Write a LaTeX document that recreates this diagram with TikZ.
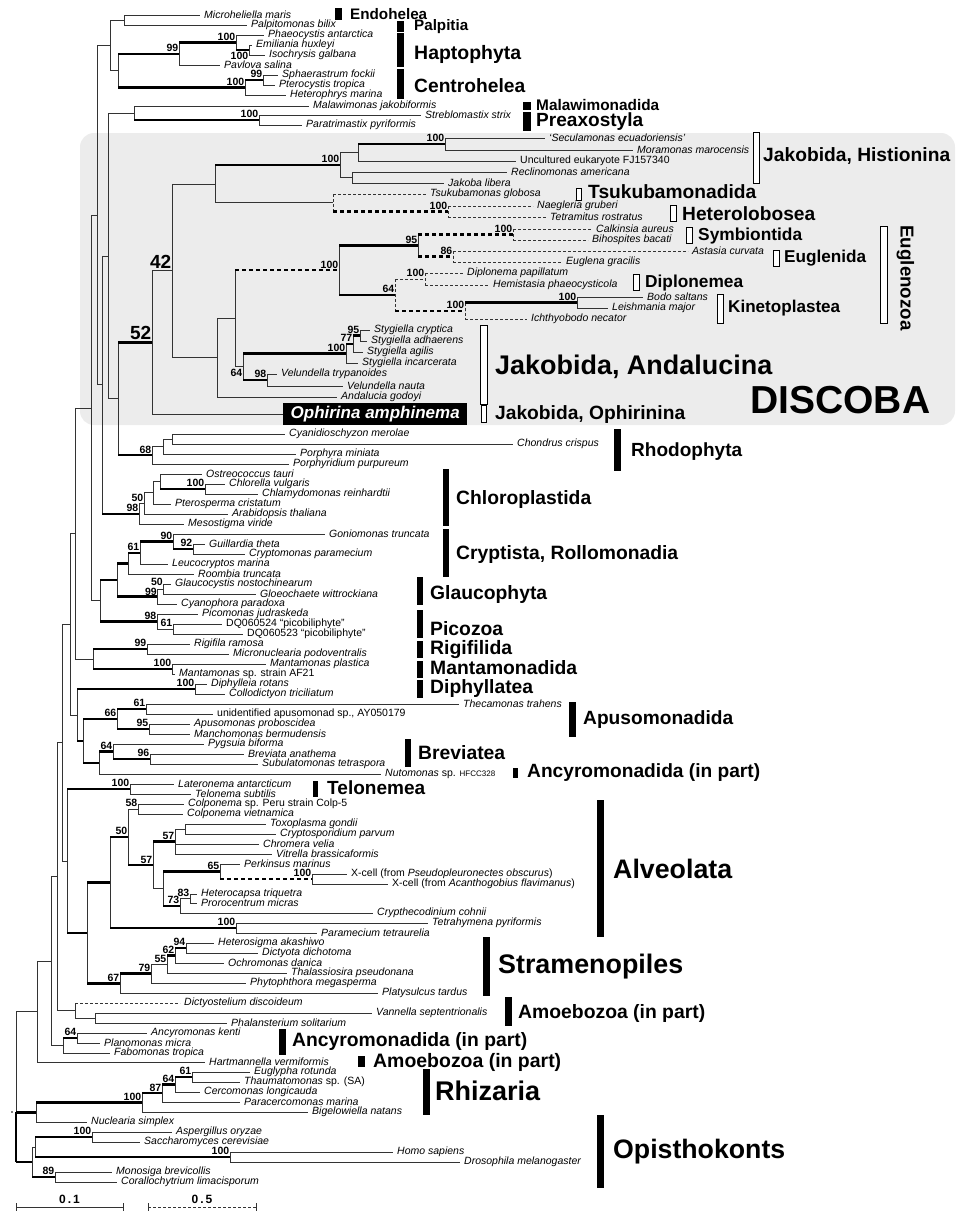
\documentclass[tikz,border=0pt]{standalone}
\usepackage{fontspec}
\setmainfont{Liberation Sans}
\usepackage{graphicx}
\usetikzlibrary{calc}
\definecolor{discobg}{RGB}{236,236,236}
\newcommand{\grplab}[2]{\resizebox{#1pt}{!}{\bfseries #2}}
\tikzset{
  tb/.style={draw=black!80, line width=0.8pt},
  kb/.style={draw=black, line width=2.4pt},
  dtb/.style={tb, dash pattern=on 3pt off 2pt},
  dkb/.style={kb, dash pattern=on 4pt off 3pt},
  taxon/.style={anchor=west, inner xsep=4pt, inner ysep=0pt, font=\fontsize{10.5}{12}\selectfont\itshape},
  bs/.style={anchor=south east, inner sep=0.6pt, yshift=1.2pt, font=\fontsize{10.5}{12}\selectfont\bfseries},
  bsbelow/.style={anchor=north east, inner sep=0.6pt, yshift=-1.6pt, font=\fontsize{10.5}{12}\selectfont\bfseries},
  bsbig/.style={anchor=south east, inner sep=0.6pt, yshift=1.5pt, font=\fontsize{19}{22}\selectfont\bfseries},
  ophi/.style={anchor=west, fill=black, text=white, inner xsep=4pt, minimum width=184pt, minimum height=19pt, font=\fontsize{17}{19}\selectfont\bfseries\itshape},
  solidbar/.style={fill=black},
  openbar/.style={draw=black, fill=white, line width=0.9pt},
  grp/.style={anchor=west, inner sep=0pt}
}
\begin{document}
\begin{tikzpicture}[x=1pt, y=-1pt]
\useasboundingbox (0,0) rectangle (957,1213);
% Discoba background
\fill[discobg, rounded corners=14pt] (80,133) rectangle (955,425);

% internal nodes
\foreach \n/\x/\y in {nMP/124/20, nEI/249/50, nHa1/236/42.5, nHa/179/53.75, nSP/263/80, nCe/245/87.5, nHC/118/70.6, nA/110/45.3, nPx/259/120, nM/134/113,
  nSM/445/144, nH1/358/152.5, nRJ/352/177.5, nHi/340/165, nNT/448/211.5, nTH/333/202.75, nJT/215/183.9,
  nCB/513/234.5, nAE/453/256.5, nEu/418/245.5, nDH/425/279, nBL/577/302.5, nKi/465/310.75, nDK/395/294.9, nEz/339/270.2,
  nS95/360/335.5, nS77/353/343.75, nSt/346/353.4, nVe/267/380, nAn/243/366.7, nEA/235/318.5, nEAA/217/357.7, n42/172/270.8, n52/152/342.4,
  nCy/172/439, nCP/163/446.5, nRh/152/455.25, n118/118/398.8, n108/108/255.9,
  nCC/205/489, nOC/160/481.5, nOP/153/492.75, nOA/144/503.4, nChl/139/513.7, n102/102/384.8, n97/97/215,
  nGC/193/549, nGo/173/541.5, nGL/140/552.75, nCr/128/563.4, nGG/163/589, nGl/157/596.5, nCG/117/580, nDQ/173/629, nPi/157/621.5, nCP2/100/600.75, n91/91/407.9,
  nRi/147/649, nMa/172/669, nRM/93/659, n75/75/533.5,
  nDi/195/689, nTU/146/709, nAM/149/729, nAp/117/719, nBS/150/759, nBr/113/751.5, nBN/99/762.75, n83/83/740.9, n78/77/714.9, n70/70/624.2,
  nTe/130/789, nCo/138/809, nTC/185/829, nCV/175/841.5, nPX/312/879, nPe/220/871.5, nHP/190/898.5, nDn/180/905.75, nPD/163/888.6, nAD/153/865.1, nCA/128/837, nCi/236/928, nAl/110/882.5,
  nHD/186/948, nHO/175/955.5, nHT/167/964.25, nHPh/151/973.6, nSt2/120/983.3, nSA/87/932.9, n67/67/861, n62/62/742.6,
  nVP/95/1018, nAm/75/1010.5, n58/57/876.5, nAK/77/1038, nAnc/63/1045.5, n52b/51/961, n37/37/1011.5,
  nRz61/192/1077, nRz64/175/1084.5, nRz87/162/1093.25, nRz/142/1102.6, nRN/36/1112.3, nFu/92/1137, nMe/230/1157, nFM/35/1147, nCh/55/1177, nOp/32/1162, root/16/1112}
  \coordinate (\n) at (\x,\y);

% leaves
\foreach \n/\x/\y/\txt in {l1/200/15/Microheliella maris, l2/247/25/Palpitomonas bilix, l3/264/35/Phaeocystis antarctica,
  l4/252/45/Emiliania huxleyi, l5/265/55/Isochrysis galbana, l6/220/65/Pavlova salina, l7/278/75/Sphaerastrum fockii,
  l8/275/85/Pterocystis tropica, l9/286/95/Heterophrys marina, l10/309/106/Malawimonas jakobiformis,
  l11/421/115/Streblomastix strix, l12/302/125/Paratrimastix pyriformis, l13/545/138/‘Seculamonas ecuadoriensis’,
  l14/633/150/Moramonas marocensis, l15/516/161/\textup{Uncultured eukaryote FJ157340}, l16/507/172/Reclinomonas americana,
  l17/444/183/Jakoba libera, l18/426/194/Tsukubamonas globosa, l19/533/206/Naegleria gruberi, l20/546/217/Tetramitus rostratus,
  l21/592/229/Calkinsia aureus, l22/588/240/Bihospites bacati, l23/688/251/Astasia curvata, l24/562/262/Euglena gracilis,
  l25/463/273/Diplonema papillatum, l26/489/285/Hemistasia phaeocysticola, l27/643/297/Bodo saltans, l28/608/308/Leishmania major,
  l29/527/319/Ichthyobodo necator, l30/370/330/Stygiella cryptica, l31/367/341/Stygiella adhaerens, l32/363/352/Stygiella agilis,
  l33/358/363/Stygiella incarcerata, l34/277/374/Velundella trypanoides, l35/343/386/Velundella nauta, l36/337/397/Andalucia godoyi,
  l38/285/434/Cyanidioschyzon merolae, l39/513/444/Chondrus crispus, l40/296/454/Porphyra miniata, l41/289/464/Porphyridium purpureum,
  l42/202/474/Ostreococcus tauri, l43/225/484/Chlorella vulgaris, l44/258/494/Chlamydomonas reinhardtii, l45/171/504/Pterosperma cristatum,
  l46/228/514/Arabidopsis thaliana, l47/184/524/Mesostigma viride, l48/325/534/Goniomonas truncata, l49/205/544/Guillardia theta,
  l50/245/554/Cryptomonas paramecium, l51/168/564/Leucocryptos marina, l52/194/574/Roombia truncata, l53/171/584/Glaucocystis nostochinearum,
  l54/256/594/Gloeochaete wittrockiana, l55/177/604/Cyanophora paradoxa, l56/198/614/Picomonas judraskeda,
  l57/222/624/\textup{DQ060524 “picobiliphyte”}, l58/243/634/\textup{DQ060523 “picobiliphyte”}, l59/190/644/Rigifila ramosa,
  l60/229/654/Micronuclearia podoventralis, l61/266/664/Mantamonas plastica, l62/175/674/Mantamonas \textup{sp. strain AF21},
  l63/207/684/Diphylleia rotans, l64/225/694/Collodictyon triciliatum, l65/459/704/Thecamonas trahens,
  l66/213/714/{\textup{unidentified apusomonad sp., AY050179}}, l67/190/724/Apusomonas proboscidea, l68/190/734/Manchomonas bermudensis,
  l69/204/744/Pygsuia biforma, l70/244/754/Breviata anathema, l71/258/764/Subulatomonas tetraspora,
  l72/381/774/Nutomonas \textup{sp. {\fontsize{8}{9}\selectfont HFCC328}}, l73/174/784/Lateronema antarcticum, l74/191/794/Telonema subtilis,
  l75/184/804/Colponema \textup{sp. Peru strain Colp-5}, l76/183/814/Colponema vietnamica, l77/266/824/Toxoplasma gondii,
  l78/276/834/Cryptosporidium parvum, l79/259/844/Chromera velia, l80/272/854/Vitrella brassicaformis, l81/240/864/Perkinsus marinus,
  l82/347/874/\textup{X-cell (from \textit{Pseudopleuronectes obscurus})}, l83/388/884/\textup{X-cell (from \textit{Acanthogobius flavimanus})},
  l84/197/894/Heterocapsa triquetra, l85/197/903/Prorocentrum micras, l86/373/913/Crypthecodinium cohnii, l87/428/923/Tetrahymena pyriformis,
  l88/317/933/Paramecium tetraurelia, l89/214/943/Heterosigma akashiwo, l90/258/953/Dictyota dichotoma, l91/224/963/Ochromonas danica,
  l92/287/973/Thalassiosira pseudonana, l93/246/983/Phytophthora megasperma, l94/378/993/Platysulcus tardus,
  l95/180/1003/Dictyostelium discoideum, l96/372/1013/Vannella septentrionalis, l97/227/1023/Phalansterium solitarium,
  l98/147/1033/Ancyromonas kenti, l99/100/1043/Planomonas micra, l100/110/1053/Fabomonas tropica, l101/205/1062/Hartmannella vermiformis,
  l102/250/1072/Euglypha rotunda, l103/240/1082/Thaumatomonas \textup{sp. (SA)}, l104/200/1092/Cercomonas longicauda,
  l105/240/1102/Paracercomonas marina, l106/308/1112/Bigelowiella natans, l107/87/1122/Nuclearia simplex,
  l108/172/1132/Aspergillus oryzae, l109/140/1142/Saccharomyces cerevisiae, l110/393/1152/Homo sapiens,
  l111/460/1162/Drosophila melanogaster, l112/112/1172/Monosiga brevicollis, l113/117/1182/Corallochytrium limacisporum}{
  \coordinate (\n) at (\x,\y);
  \node[taxon] (\n-lab) at (\n) {\txt};
}
\coordinate (l37) at (283,414);
\node[ophi] (l37-lab) at (l37) {Ophirina amphinema};

% vertical joins
\foreach \p/\a/\b/\s in {nMP/l1/l2/tb, nEI/l4/l5/tb, nHa1/l3/nEI/tb, nHa/nHa1/l6/tb, nSP/l7/l8/tb, nCe/nSP/l9/tb, nHC/nHa/nCe/tb,
  nA/nMP/nHC/tb, nPx/l11/l12/tb, nM/l10/nPx/tb, nSM/l13/l14/tb, nH1/nSM/l15/tb, nRJ/l16/l17/tb, nHi/nH1/nRJ/tb, nNT/l19/l20/dtb,
  nTH/l18/nNT/dtb, nJT/nHi/nTH/tb, nCB/l21/l22/dtb, nAE/l23/l24/dtb, nEu/nCB/nAE/tb, nDH/l25/l26/dtb, nBL/l27/l28/tb, nKi/nBL/l29/dtb,
  nDK/nDH/nKi/dtb, nEz/nEu/nDK/tb, nS95/l30/l31/tb, nS77/nS95/l32/tb, nSt/nS77/l33/tb, nVe/l34/l35/tb, nAn/nSt/nVe/tb, nEA/nEz/nAn/tb,
  nEAA/nEA/l36/tb, n42/nJT/nEAA/tb, n52/n42/l37/tb, nCy/l38/l39/tb, nCP/nCy/l40/tb, nRh/nCP/l41/tb, n118/n52/nRh/tb, n108/nM/n118/tb,
  nCC/l43/l44/tb, nOC/l42/nCC/tb, nOP/nOC/l45/tb, nOA/nOP/l46/tb, nChl/nOA/l47/tb, n102/n108/nChl/tb, n97/nA/n102/tb,
  nGC/l49/l50/tb, nGo/l48/nGC/tb, nGL/nGo/l51/tb, nCr/nGL/l52/tb, nGG/l53/l54/tb, nGl/nGG/l55/tb, nCG/nCr/nGl/tb, nDQ/l57/l58/tb,
  nPi/l56/nDQ/tb, nCP2/nCG/nPi/tb, n91/n97/nCP2/tb, nRi/l59/l60/tb, nMa/l61/l62/tb, nRM/nRi/nMa/tb, n75/n91/nRM/tb,
  nDi/l63/l64/tb, nTU/l65/l66/tb, nAM/l67/l68/tb, nAp/nTU/nAM/tb, nBS/l70/l71/tb, nBr/l69/nBS/tb, nBN/nBr/l72/tb, n83/nAp/nBN/tb,
  n78/nDi/n83/tb, n70/n75/n78/tb, nTe/l73/l74/tb, nCo/l75/l76/tb, nTC/l77/l78/tb, nCV/nTC/l80/tb, nPX/l82/l83/tb, nPe/l81/nPX/tb,
  nHP/l84/l85/tb, nDn/nHP/l86/tb, nPD/nPe/nDn/tb, nAD/nCV/nPD/tb, nCA/nCo/nAD/tb, nCi/l87/l88/tb, nAl/nCA/nCi/tb,
  nHD/l89/l90/tb, nHO/nHD/l91/tb, nHT/nHO/l92/tb, nHPh/nHT/l93/tb, nSt2/nHPh/l94/tb, nSA/nAl/nSt2/tb, n67/nTe/nSA/tb, n62/n70/n67/tb,
  nVP/l96/l97/tb, nAm/l95/nVP/tb, n58/n62/nAm/tb, nAK/l98/l99/tb, nAnc/nAK/l100/tb, n52b/n58/nAnc/tb, n37/n52b/l101/tb,
  nRz61/l102/l103/tb, nRz64/nRz61/l104/tb, nRz87/nRz64/l105/tb, nRz/nRz87/l106/tb, nRN/nRz/l107/tb, nFu/l108/l109/tb,
  nMe/l110/l111/tb, nFM/nFu/nMe/tb, nCh/l112/l113/tb, nOp/nFM/nCh/tb, root/n37/nRN/tb, root/nRN/nOp/kb}
  \draw[\s] (\p |- \a) -- (\p |- \b);

% branches
\foreach \p/\c/\s in {nMP/l1/tb, nMP/l2/tb, nEI/l4/tb, nEI/l5/tb, nHa1/l3/tb, nHa1/nEI/kb, nHa/nHa1/kb, nHa/l6/tb, nSP/l7/tb, nSP/l8/tb,
  nCe/nSP/kb, nCe/l9/tb, nHC/nHa/kb, nHC/nCe/kb, nA/nMP/tb, nA/nHC/tb, nPx/l11/tb, nPx/l12/tb, nM/l10/tb, nM/nPx/kb,
  nSM/l13/tb, nSM/l14/tb, nH1/nSM/kb, nH1/l15/tb, nRJ/l16/tb, nRJ/l17/tb, nHi/nH1/tb, nHi/nRJ/tb, nNT/l19/dtb, nNT/l20/dtb,
  nTH/l18/dtb, nTH/nNT/dkb, nJT/nHi/kb, nJT/nTH/tb, nCB/l21/dtb, nCB/l22/dtb, nAE/l23/dtb, nAE/l24/dtb, nEu/nCB/dkb, nEu/nAE/dkb,
  nDH/l25/dtb, nDH/l26/dtb, nBL/l27/tb, nBL/l28/tb, nKi/nBL/kb, nKi/l29/dtb, nDK/nDH/dtb, nDK/nKi/dkb, nEz/nEu/kb, nEz/nDK/kb,
  nS95/l30/tb, nS95/l31/tb, nS77/nS95/kb, nS77/l32/tb, nSt/nS77/kb, nSt/l33/tb, nVe/l34/tb, nVe/l35/tb, nAn/nSt/kb, nAn/nVe/kb,
  nEA/nEz/dkb, nEA/nAn/tb, nEAA/nEA/tb, nEAA/l36/tb, n42/nJT/tb, n42/nEAA/tb, n52/n42/tb, n52/l37/tb, nCy/l38/tb, nCy/l39/tb,
  nCP/nCy/tb, nCP/l40/tb, nRh/nCP/tb, nRh/l41/tb, n118/n52/kb, n118/nRh/kb, n108/nM/tb, n108/n118/tb,
  nCC/l43/tb, nCC/l44/tb, nOC/l42/tb, nOC/nCC/kb, nOP/nOC/tb, nOP/l45/tb, nOA/nOP/tb, nOA/l46/tb, nChl/nOA/tb, nChl/l47/tb,
  n102/n108/tb, n102/nChl/kb, n97/nA/tb, n97/n102/tb,
  nGC/l49/tb, nGC/l50/tb, nGo/l48/tb, nGo/nGC/kb, nGL/nGo/kb, nGL/l51/tb, nCr/nGL/kb, nCr/l52/tb, nGG/l53/tb, nGG/l54/tb,
  nGl/nGG/tb, nGl/l55/tb, nCG/nCr/kb, nCG/nGl/kb, nDQ/l57/tb, nDQ/l58/tb, nPi/l56/tb, nPi/nDQ/tb, nCP2/nCG/kb, nCP2/nPi/kb,
  n91/n97/tb, n91/nCP2/tb, nRi/l59/tb, nRi/l60/tb, nMa/l61/tb, nMa/l62/tb, nRM/nRi/kb, nRM/nMa/kb, n75/n91/tb, n75/nRM/tb,
  nDi/l63/tb, nDi/l64/tb, nTU/l65/tb, nTU/l66/tb, nAM/l67/tb, nAM/l68/tb, nAp/nTU/kb, nAp/nAM/kb, nBS/l70/tb, nBS/l71/tb,
  nBr/l69/tb, nBr/nBS/kb, nBN/nBr/kb, nBN/l72/tb, n83/nAp/kb, n83/nBN/kb, n78/nDi/kb, n78/n83/kb, n70/n75/tb, n70/n78/tb,
  nTe/l73/tb, nTe/l74/tb, nCo/l75/tb, nCo/l76/tb, nTC/l77/tb, nTC/l78/tb, nCV/nTC/tb, nCV/l79/tb, nCV/l80/tb, nPX/l82/tb,
  nPX/l83/tb, nPe/l81/tb, nPe/nPX/dkb, nHP/l84/tb, nHP/l85/tb, nDn/nHP/tb, nDn/l86/tb, nPD/nPe/kb, nPD/nDn/kb, nAD/nCV/kb,
  nAD/nPD/tb, nCA/nCo/tb, nCA/nAD/kb, nCi/l87/tb, nCi/l88/tb, nAl/nCA/kb, nAl/nCi/kb, nHD/l89/tb, nHD/l90/tb, nHO/nHD/kb,
  nHO/l91/tb, nHT/nHO/kb, nHT/l92/tb, nHPh/nHT/tb, nHPh/l93/tb, nSt2/nHPh/kb, nSt2/l94/tb, nSA/nAl/kb, nSA/nSt2/kb,
  n67/nTe/kb, n67/nSA/kb, n62/n70/tb, n62/n67/tb, nVP/l96/tb, nVP/l97/tb, nAm/l95/dtb, nAm/nVP/tb, n58/n62/tb, n58/nAm/tb,
  nAK/l98/tb, nAK/l99/tb, nAnc/nAK/kb, nAnc/l100/tb, n52b/n58/tb, n52b/nAnc/tb, n37/n52b/tb, n37/l101/tb,
  nRz61/l102/tb, nRz61/l103/tb, nRz64/nRz61/kb, nRz64/l104/tb, nRz87/nRz64/kb, nRz87/l105/tb, nRz/nRz87/kb, nRz/l106/tb,
  nRN/nRz/kb, nRN/l107/tb, nFu/l108/tb, nFu/l109/tb, nMe/l110/tb, nMe/l111/tb, nFM/nFu/kb, nFM/nMe/kb, nCh/l112/tb,
  nCh/l113/tb, nOp/nFM/tb, nOp/nCh/kb, root/n37/tb, root/nRN/kb, root/nOp/kb}
  \draw[\s] (\p |- \c) -- (\c);
\fill (12,1112) circle (0.8);

% support values
\foreach \n/\v in {nHa1/100, nHa/99, nSP/99, nCe/100, nPx/100, nSM/100, nHi/100, nNT/100, nCB/100, nAE/86, nEu/95, nDH/100,
  nBL/100, nKi/100, nDK/64, nEz/100, nS95/95, nS77/77, nSt/100, nVe/98, nRh/68, nCC/100, nOA/50, nChl/98, nGo/90, nGC/92,
  nGL/61, nPi/98, nDQ/61, nRi/99, nMa/100, nDi/100, nTU/61, nAp/66, nAM/95, nBr/64, nBS/96, nTe/100, nCo/58,
  nCA/50, nAD/57, nCV/57, nPe/65, nPX/100, nDn/73, nHP/83, nCi/100, nHD/94, nHO/62, nHT/55, nHPh/79, nSt2/67, nAK/64,
  nRz61/61, nRz64/64, nRz87/87, nRz/100, nFu/100, nMe/100, nCh/89}
  \node[bs] at (\n) {\v};
\node[bs, inner sep=0pt, yshift=2pt] at (nGG) {50};
\node[bs, inner sep=0pt, yshift=-0.2pt] at (nGl) {99};
\node[bsbelow] at (nEI) {100};
\node[bsbelow] at (nAn) {64};
\node[bsbig] at (n42) {42};
\node[bsbig] at (n52) {52};

% clade bars
\foreach \xa/\ya/\xb/\yb/\lx/\ly/\w/\txt in {335/8/342/20/350/14/77/Endohelea, 397/21/404/32/414/27/54/Palpitia,
  397/33/404/67/414/54/107/Haptophyta, 397/69/404/99/414/86/111/Centrohelea, 523/102/531/110/536/105/123/Malawimonadida,
  523/112/531/131/536/122/107/Preaxostyla, 614/429/621/471/631/452/111/Rhodophyta, 443/469/449/526/456/500/135/Chloroplastida,
  443/529/449/577/456/555/222/{Cryptista, Rollomonadia}, 417/577/423/605/430/594/117/Glaucophyta, 417/610/423/638/430/629/73/Picozoa,
  417/641/423/658/430/650/82/Rigifilida, 417/661/423/678/430/668/147/Mantamonadida, 417/680/423/698/430/688/103/Diphyllatea,
  569/702/576/737/583/720/150/Apusomonadida, 405/739/411/767/418/753/87/Breviatea, 513/768/518/778/527/773/233/Ancyromonadida (in part),
  313/781/318/797/327/788/98/Telonemea, 597/800/604/937/613/869/119/Alveolata, 483/937/490/996/498/967/185/Stramenopiles,
  505/997/512/1026/518/1013/187/Amoebozoa (in part), 279/1029/286/1055/292/1041/235/Ancyromonadida (in part),
  358/1056/365/1067/373/1062/188/Amoebozoa (in part), 423/1069/430/1115/435/1091/105/Rhizaria, 597/1115/604/1188/613/1152/172/Opisthokonts}{
  \fill[solidbar] (\xa,\ya) rectangle (\xb,\yb);
  \node[grp] at (\lx,\ly) {\grplab{\w}{\txt}};
}
\foreach \xa/\ya/\xb/\yb/\lx/\ly/\w/\txt in {753/132/759/183/763/156/187/{Jakobida, Histionina}, 576/188/581/200/588/191.3/168/Tsukubamonadida,
  670/205/676/221/682/214/133/Heterolobosea, 686/227/692/243/698/236/104/Symbiontida, 773/250/779/266/784/258/82/Euglenida,
  633/274/639/290/645/283/98/Diplonemea, 717/294/723/323/728/308/112/Kinetoplastea, 480/325/487/404/495/367/277/{Jakobida, Andalucina},
  481/405/486/422/495/415/190/{Jakobida, Ophirinina}}{
  \draw[openbar] (\xa,\ya) rectangle (\xb,\yb);
  \node[grp] at (\lx,\ly) {\grplab{\w}{\txt}};
}
\draw[openbar] (880,226) rectangle (887,323);
\node[grp, anchor=center, rotate=-90] at (905.5,278) {\grplab{105}{Euglenozoa}};
\node[grp] at (750,400) {\grplab{180}{DISCOBA}};

% scale bars
\coordinate (sa1) at (16,1207);
\coordinate (sa2) at (123,1207);
\coordinate (sb1) at (148,1207);
\coordinate (sb2) at (256,1207);
\draw[tb] (sa1) -- (sa2);
\draw[dtb] (sb1) -- (sb2);
\foreach \c in {sa1, sa2, sb1, sb2}
  \draw[tb] ([yshift=4pt]\c) -- ([yshift=-4pt]\c);
\node[font=\fontsize{12}{14}\selectfont\bfseries, anchor=south] at ($(sa1)!0.5!(sa2)$) {0\,.\,1};
\node[font=\fontsize{12}{14}\selectfont\bfseries, anchor=south] at ($(sb1)!0.5!(sb2)$) {0\,.\,5};
\end{tikzpicture}
\end{document}
